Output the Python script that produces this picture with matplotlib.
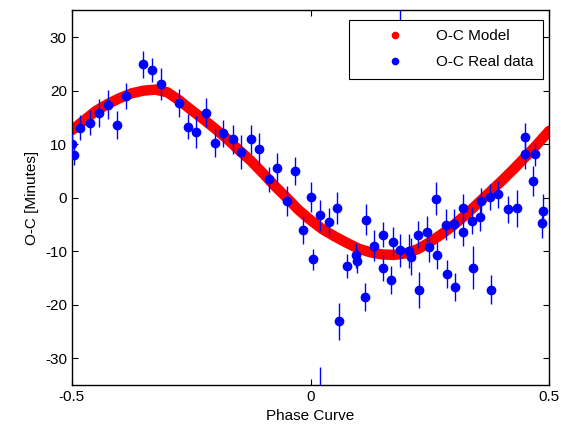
import numpy as np
import matplotlib
matplotlib.use("Agg")
from matplotlib import pylab as plt
from matplotlib.lines import Line2D

plt.rcParams['font.family'] = ['Liberation Sans', 'DejaVu Sans']
plt.rcParams['axes.unicode_minus'] = False

# model curve, every 0.025 in phase
phase_model = np.round(np.arange(-0.5, 0.5001, 0.025), 3)
oc_model = [12.6, 14.4, 16.2, 17.5, 18.6, 19.5, 20.0, 20.2, 19.7, 18.2,
            16.4, 14.7, 12.9, 11.0, 8.9, 6.9, 4.6, 2.2, 0.0, -2.3,
            -4.2, -5.9, -7.2, -8.4, -9.5, -10.2, -10.6, -10.7, -10.4, -9.6,
            -8.3, -6.8, -5.1, -3.2, -1.1, 1.0, 3.1, 5.3, 7.6, 10.0,
            12.5]

# observed O-C points
phase_obs = [-0.499, -0.496, -0.482, -0.461, -0.444, -0.424, -0.406, -0.386, -0.351, -0.332,
             -0.314, -0.276, -0.257, -0.239, -0.218, -0.201, -0.183, -0.163, -0.146, -0.125,
             -0.108, -0.088, -0.070, -0.050, -0.032, -0.016, 0.002, 0.005, 0.019, 0.020,
             0.039, 0.056, 0.059, 0.077, 0.095, 0.097, 0.114, 0.117, 0.132, 0.152,
             0.152, 0.169, 0.172, 0.188, 0.188, 0.207, 0.210, 0.225, 0.227, 0.245,
             0.248, 0.262, 0.265, 0.283, 0.286, 0.300, 0.303, 0.320, 0.320, 0.338,
             0.341, 0.355, 0.358, 0.376, 0.378, 0.393, 0.413, 0.433, 0.450, 0.450,
             0.467, 0.470, 0.485, 0.487]
oc_obs = [10.0, 7.9, 13.1, 14.0, 15.9, 17.4, 13.6, 19.0, 24.9, 23.9,
          21.2, 17.7, 13.3, 12.2, 15.9, 10.2, 12.0, 10.9, 8.6, 10.9,
          9.1, 3.4, 5.5, -0.7, 5.0, -6.1, 0.1, -11.5, -3.3, -36.0,
          -4.6, -2.0, -23.1, -12.8, -10.8, -11.8, -18.5, -4.1, -9.0, -6.9,
          -13.1, -15.4, -8.2, -9.8, 37.5, -10.0, -11.0, -6.9, -17.2, -6.4,
          -9.2, -0.2, -10.8, -5.1, -14.2, -4.9, -16.7, -2.0, -6.4, -4.3,
          -13.1, -3.6, -0.7, 0.1, -17.2, 0.6, -2.2, -2.0, 11.4, 8.1,
          3.2, 8.1, -4.8, -2.5]
oc_err = [2.0, 1.8, 2.3, 2.3, 2.6, 2.7, 2.6, 2.4, 2.5, 2.2,
          3.0, 2.6, 2.3, 3.0, 2.7, 2.6, 2.5, 2.7, 3.2, 2.7,
          2.9, 2.4, 2.9, 2.8, 2.6, 2.6, 2.8, 2.0, 2.9, 4.4,
          2.6, 3.0, 3.5, 2.2, 2.3, 2.3, 2.6, 2.9, 2.9, 2.4,
          2.4, 2.6, 2.7, 3.1, 4.3, 3.2, 3.4, 2.5, 3.4, 2.9,
          2.8, 3.1, 2.5, 2.9, 2.6, 2.7, 2.6, 2.7, 2.7, 2.5,
          4.0, 2.7, 2.5, 2.4, 2.7, 2.6, 2.6, 3.4, 2.5, 2.7,
          2.8, 2.2, 2.7, 3.2]

fig = plt.figure(figsize=(5.61, 4.34), dpi=100)
ax = fig.add_axes([0.128, 0.113, 0.851, 0.863])

ax.plot(phase_model, oc_model, '-', color='red', lw=7.5, solid_capstyle='round',
        solid_joinstyle='round', zorder=2)
ax.errorbar(phase_obs, oc_obs, yerr=oc_err, fmt='o', color='blue', ms=6,
            ecolor='blue', elinewidth=1, capsize=0, zorder=3)

ax.set_xlim(-0.5, 0.5)
ax.set_ylim(-35, 35)
ax.set_xticks([-0.5, 0, 0.5])
ax.set_xticklabels(['-0.5', '0', '0.5'])
ax.set_yticks([-30, -20, -10, 0, 10, 20, 30])
ax.tick_params(direction='in', top=True, right=True, length=4, labelsize=11)
for s in ax.spines.values():
    s.set_linewidth(1.0)

ax.set_xlabel('Phase Curve', fontsize=11)
ax.set_ylabel('O-C [Minutes]', fontsize=11)

handles = [Line2D([], [], ls='none', marker='.', color='red', ms=9),
           Line2D([], [], ls='none', marker='.', color='blue', ms=9)]
leg = ax.legend(handles, ['O-C Model', 'O-C Real data'], loc='upper right',
                bbox_to_anchor=(543 / 561, 1 - 20 / 434), bbox_transform=fig.transFigure,
                borderaxespad=0, fancybox=False, framealpha=1, edgecolor='black',
                fontsize=11, handlelength=4.8, handletextpad=0.3, borderpad=0.6,
                labelspacing=0.8)
leg.get_frame().set_linewidth(0.8)

fig.savefig('out.png', dpi=100)
